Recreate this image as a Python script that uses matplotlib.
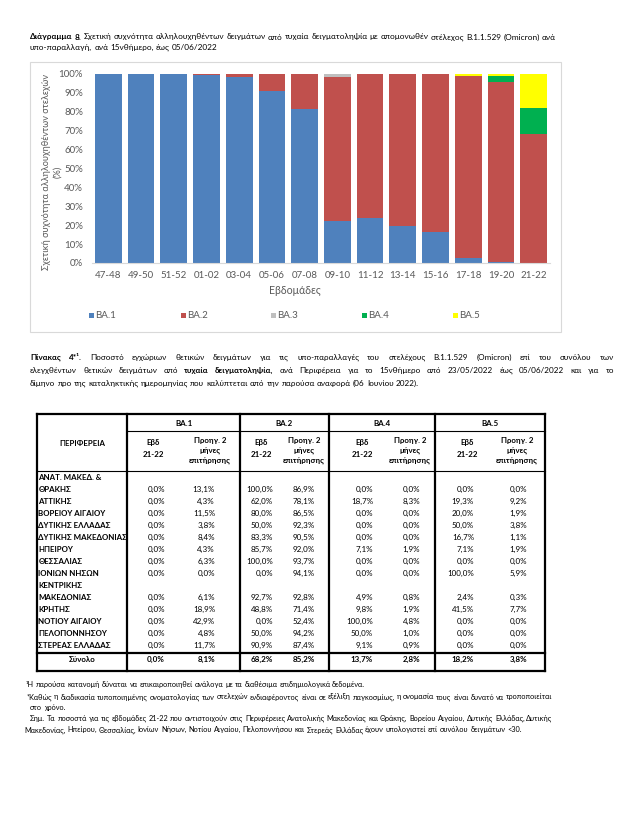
import numpy as np
import matplotlib
matplotlib.use('Agg')
import matplotlib.pyplot as plt
from matplotlib.patches import Rectangle
from matplotlib.lines import Line2D

plt.rcParams['font.family'] = ['Lato', 'DejaVu Sans']

# --- chart data (relative frequency, %) ---
weeks = ["47-48", "49-50", "51-52", "01-02", "03-04", "05-06", "07-08",
         "09-10", "11-12", "13-14", "15-16", "17-18", "19-20", "21-22"]
ba1 = [100, 100, 100, 99.7, 98.3, 90.8, 81.6, 22.1, 23.7, 19.6, 16.3, 2.9, 0.5, 0.0]
ba2 = [0, 0, 0, 0.3, 1.7, 9.2, 18.4, 76.5, 76.3, 80.4, 83.7, 96.2, 95.1, 68.2]
ba3 = [0, 0, 0, 0, 0, 0, 0, 1.4, 0, 0, 0, 0, 0, 0]
ba4 = [0, 0, 0, 0, 0, 0, 0, 0, 0, 0, 0, 0, 3.2, 13.7]
ba5 = [0, 0, 0, 0, 0, 0, 0, 0, 0, 0, 0, 0.9, 1.2, 18.2]
variants = ["BA.1", "BA.2", "BA.3", "BA.4", "BA.5"]
colors = ["#4F81BD", "#C0504D", "#BFBFBF", "#00B050", "#FFFF00"]

# --- table data (%) ---
regions = ["ΑΝΑΤ. ΜΑΚΕΔ. &\nΘΡΑΚΗΣ", "ΑΤΤΙΚΗΣ", "ΒΟΡΕΙΟΥ ΑΙΓΑΙΟΥ", "ΔΥΤΙΚΗΣ ΕΛΛΑΔΑΣ",
           "ΔΥΤΙΚΗΣ ΜΑΚΕΔΟΝΙΑΣ", "ΗΠΕΙΡΟΥ", "ΘΕΣΣΑΛΙΑΣ", "ΙΟΝΙΩΝ ΝΗΣΩΝ",
           "ΚΕΝΤΡΙΚΗΣ\nΜΑΚΕΔΟΝΙΑΣ", "ΚΡΗΤΗΣ", "ΝΟΤΙΟΥ ΑΙΓΑΙΟΥ", "ΠΕΛΟΠΟΝΝΗΣΟΥ",
           "ΣΤΕΡΕΑΣ ΕΛΛΑΔΑΣ"]
ba1_wk = [0.0, 0.0, 0.0, 0.0, 0.0, 0.0, 0.0, 0.0, 0.0, 0.0, 0.0, 0.0, 0.0]
ba1_2m = [13.1, 4.3, 11.5, 3.8, 8.4, 4.3, 6.3, 0.0, 6.1, 18.9, 42.9, 4.8, 11.7]
ba2_wk = [100.0, 62.0, 80.0, 50.0, 83.3, 85.7, 100.0, 0.0, 92.7, 48.8, 0.0, 50.0, 90.9]
ba2_2m = [86.9, 78.1, 86.5, 92.3, 90.5, 92.0, 93.7, 94.1, 92.8, 71.4, 52.4, 94.2, 87.4]
ba4_wk = [0.0, 18.7, 0.0, 0.0, 0.0, 7.1, 0.0, 0.0, 4.9, 9.8, 100.0, 50.0, 9.1]
ba4_2m = [0.0, 8.3, 0.0, 0.0, 0.0, 1.9, 0.0, 0.0, 0.8, 1.9, 4.8, 1.0, 0.9]
ba5_wk = [0.0, 19.3, 20.0, 50.0, 16.7, 7.1, 0.0, 100.0, 2.4, 41.5, 0.0, 0.0, 0.0]
ba5_2m = [0.0, 9.2, 1.9, 3.8, 1.1, 1.9, 0.0, 5.9, 0.3, 7.7, 0.0, 0.0, 0.0]
totals = [0.0, 8.1, 68.2, 85.2, 13.7, 2.8, 18.2, 3.8]
table_groups = ["BA.1", "BA.2", "BA.4", "BA.5"]

W, H = 644, 814
fig = plt.figure(figsize=(W / 100, H / 100), dpi=100)
renderer = fig.canvas.get_renderer()


def fx(x):
    return x / W


def fy(y):
    return 1 - y / H


def hline(x0, x1, y, lw):
    fig.add_artist(Line2D([fx(x0), fx(x1)], [fy(y), fy(y)], transform=fig.transFigure,
                          color='black', lw=lw, solid_capstyle='projecting'))


def vline(x, y0, y1, lw):
    fig.add_artist(Line2D([fx(x), fx(x)], [fy(y0), fy(y1)], transform=fig.transFigure,
                          color='black', lw=lw, solid_capstyle='projecting'))


def measure(s, weight, size):
    t = fig.text(0, 0, s, fontsize=size, weight=weight)
    w = t.get_window_extent(renderer).width
    t.remove()
    return w


def space_w(size):
    return measure("x x", 'normal', size) - measure("xx", 'normal', size)


def split_words(segs):
    out = []
    for s, wt in segs:
        for w in s.split():
            out.append((w, wt))
    return out


def fit_size(segs, target, base=6.0):
    words = split_words(segs)
    tot = sum(measure(w, wt, base) for w, wt in words) + space_w(base) * (len(words) - 1)
    return base * target / tot


def text_line(x0, y, segs, size, x1=None, color='black'):
    # one line of text, optionally justified between x0 and x1
    words = split_words(segs)
    widths = [measure(w, wt, size) for w, wt in words]
    gap = space_w(size) if x1 is None else (x1 - x0 - sum(widths)) / (len(words) - 1)
    x = x0
    for (w, wt), wd in zip(words, widths):
        fig.text(fx(x), fy(y), w, fontsize=size, weight=wt, color=color,
                 ha='left', va='baseline')
        x += wd + gap


# ---------------- title ----------------
t1 = [("Διάγραμμα 8.", 'bold'),
      ("Σχετική συχνότητα αλληλουχηθέντων δειγμάτων από τυχαία δειγματοληψία με "
       "απομονωθέν στέλεχος B.1.1.529 (Omicron) ανά", 'normal')]
t2 = [("υπο-παραλλαγή, ανά 15νθήμερο, έως 05/06/2022", 'normal')]
ts = fit_size(t1, 526)
text_line(30, 39.5, t1, ts)
text_line(30, 50, t2, ts)

# ---------------- chart ----------------
fig.add_artist(Rectangle((fx(30), fy(332)), (561 - 30) / W, (332 - 62) / H,
                         transform=fig.transFigure, fill=False,
                         edgecolor='#D9D9D9', lw=0.8))
ax = fig.add_axes([fx(92), fy(263), (550 - 92) / W, (263 - 74) / H])
xpos = np.arange(len(weeks))
bottom = np.zeros(len(weeks))
for name, vals, col in zip(variants, [ba1, ba2, ba3, ba4, ba5], colors):
    vals = np.array(vals, dtype=float)
    ax.bar(xpos, vals, 0.82, bottom=bottom, color=col, linewidth=0, label=name)
    bottom += vals
ax.set_xlim(-0.5, len(weeks) - 0.5)
ax.set_ylim(0, 100)
ax.set_yticks(range(0, 101, 10))
ax.set_yticklabels([f"{v}%" for v in range(0, 101, 10)])
ax.set_xticks(xpos)
ax.set_xticklabels(weeks)
ax.tick_params(axis='both', length=0, labelsize=7, labelcolor='#595959')
ax.tick_params(axis='y', pad=6.5)
ax.tick_params(axis='x', pad=5.5)
for sp in ['top', 'left', 'right']:
    ax.spines[sp].set_visible(False)
ax.spines['bottom'].set_color('#D9D9D9')
ax.patch.set_alpha(0)

ylab = "Σχετική συχνότητα αλληλουχηθέντων στελεχών"
yls = fit_size([(ylab, 'normal')], 198)
fig.text(fx(47), fy(172), ylab, rotation=90, ha='center', va='center',
         fontsize=yls, color='#595959')
fig.text(fx(58), fy(172), "(%)", rotation=90, ha='center', va='center',
         fontsize=yls, color='#595959')
fig.text(fx(295), fy(291), "Εβδομάδες", ha='center', va='center',
         fontsize=7.6, color='#595959')

leg_x = [89, 181, 271, 362, 453]
for lx, name, col in zip(leg_x, variants, colors):
    fig.add_artist(Rectangle((fx(lx), fy(318)), 5 / W, 5 / H,
                             transform=fig.transFigure, color=col, lw=0))
    fig.text(fx(lx + 6.5), fy(315.5), name, ha='left', va='center',
             fontsize=7, color='#595959')

# ---------------- caption ----------------
c1 = [("Πίνακας 4*¹.", 'bold'),
      ("Ποσοστό εγχώριων θετικών δειγμάτων για τις υπο-παραλλαγές του στελέχους "
       "B.1.1.529 (Omicron) επί του συνόλου των", 'normal')]
c2 = [("ελεγχθέντων θετικών δειγμάτων από", 'normal'),
      ("τυχαία δειγματοληψία,", 'bold'),
      ("ανά Περιφέρεια για το 15νθήμερο από 23/05/2022 έως 05/06/2022 και για το", 'normal')]
c3 = [("δίμηνο προ της καταληκτικής ημερομηνίας που καλύπτεται από την παρούσα "
       "αναφορά (06 Ιουνίου 2022).", 'normal')]
cs = fit_size(c3, 385)
text_line(30, 360, c1, cs, x1=614)
text_line(30, 373, c2, cs, x1=614)
text_line(30, 386, c3, cs)

# ---------------- table ----------------
L, R = 37, 545
TOP, HDR1, HDR2, TOT, BOT = 414, 431, 471, 653, 671
col_div = [127, 240, 329, 435]
thick, thin = 1.6, 0.8
hline(L, R, TOP, thick)
hline(col_div[0], R, HDR1, thin)
hline(L, R, HDR2, thin)
hline(L, R, TOT, thick)
hline(L, R, BOT, thick)
vline(L, TOP, BOT, thick)
vline(R, TOP, BOT, thick)
for xd in col_div:
    vline(xd, TOP, BOT, thick)

fs_tab = fit_size([("ΔΥΤΙΚΗΣ ΜΑΚΕΔΟΝΙΑΣ", 'bold')], 90)
fs_val = fit_size([("100,0%", 'normal')], 27)

fig.text(fx(82), fy(443), "ΠΕΡΙΦΕΡΕΙΑ", ha='center', va='center',
         fontsize=fs_tab, weight='bold')
grp_edges = col_div + [R]
sub_centers = [(153, 210), (261, 304), (362, 410), (467, 517)]
for i, g in enumerate(table_groups):
    cx = (grp_edges[i] + grp_edges[i + 1]) / 2
    fig.text(fx(cx), fy(423), g, ha='center', va='center', fontsize=fs_tab, weight='bold')
    a, b = sub_centers[i]
    for yy, s in zip([442, 454], ["Εβδ", "21-22"]):
        fig.text(fx(a), fy(yy), s, ha='center', va='center_baseline',
                 fontsize=fs_tab, weight='bold')
    for yy, s in zip([440, 450.5, 461], ["Προηγ. 2", "μήνες", "επιτήρησης"]):
        fig.text(fx(b), fy(yy), s, ha='center', va='center_baseline',
                 fontsize=fs_tab, weight='bold')

value_cols = [ba1_wk, ba1_2m, ba2_wk, ba2_2m, ba4_wk, ba4_2m, ba5_wk, ba5_2m]
right_edges = [165, 215, 273, 315, 373, 420, 474, 527]


def pct(v):
    return f"{v:.1f}%".replace(".", ",")


y = 477.5
step = 12
for r, name in enumerate(regions):
    lines = name.split("\n")
    for k, ln in enumerate(lines):
        fig.text(fx(38.5), fy(y + k * step), ln, ha='left', va='center',
                 fontsize=fs_tab, weight='bold')
    yv = y + (len(lines) - 1) * step
    for col, xr in zip(value_cols, right_edges):
        fig.text(fx(xr), fy(yv), pct(col[r]), ha='right', va='center', fontsize=fs_val)
    y = yv + step

fig.text(fx(82), fy(659), "Σύνολο", ha='center', va='center', fontsize=fs_tab, weight='bold')
for v, xr in zip(totals, right_edges):
    fig.text(fx(xr), fy(659), pct(v), ha='right', va='center', fontsize=fs_val, weight='bold')

# ---------------- footnotes ----------------
f1 = [("¹Η παρούσα κατανομή δύναται να επικαιροποιηθεί ανάλογα με τα διαθέσιμα "
       "επιδημιολογικά δεδομένα.", 'normal')]
f2 = [("*Καθώς η διαδικασία τυποποιημένης ονοματολογίας των στελεχών ενδιαφέροντος "
       "είναι σε εξέλιξη παγκοσμίως, η ονομασία τους είναι δυνατό να τροποποιείται", 'normal')]
f3 = [("στο χρόνο.", 'normal')]
f4 = [("Σημ. Τα ποσοστά για τις εβδομάδες 21-22 που αντιστοιχούν στις Περιφέρειες "
       "Ανατολικής Μακεδονίας και Θράκης, Βορείου Αιγαίου, Δυτικής Ελλάδας, Δυτικής", 'normal')]
f5 = [("Μακεδονίας, Ηπείρου, Θεσσαλίας, Ιονίων Νήσων, Νοτίου Αιγαίου, Πελοποννήσου και "
       "Στερεάς Ελλάδας έχουν υπολογιστεί επί συνόλου δειγμάτων <30.", 'normal')]
fs_fn = fit_size(f4, 530)
text_line(26, 687, f1, fs_fn)
text_line(27, 699.5, f2, fs_fn)
text_line(30, 710, f3, fs_fn)
text_line(30, 721, f4, fs_fn)
text_line(24, 732, f5, fs_fn)

fig.savefig("out.png", dpi=100, facecolor='white')
